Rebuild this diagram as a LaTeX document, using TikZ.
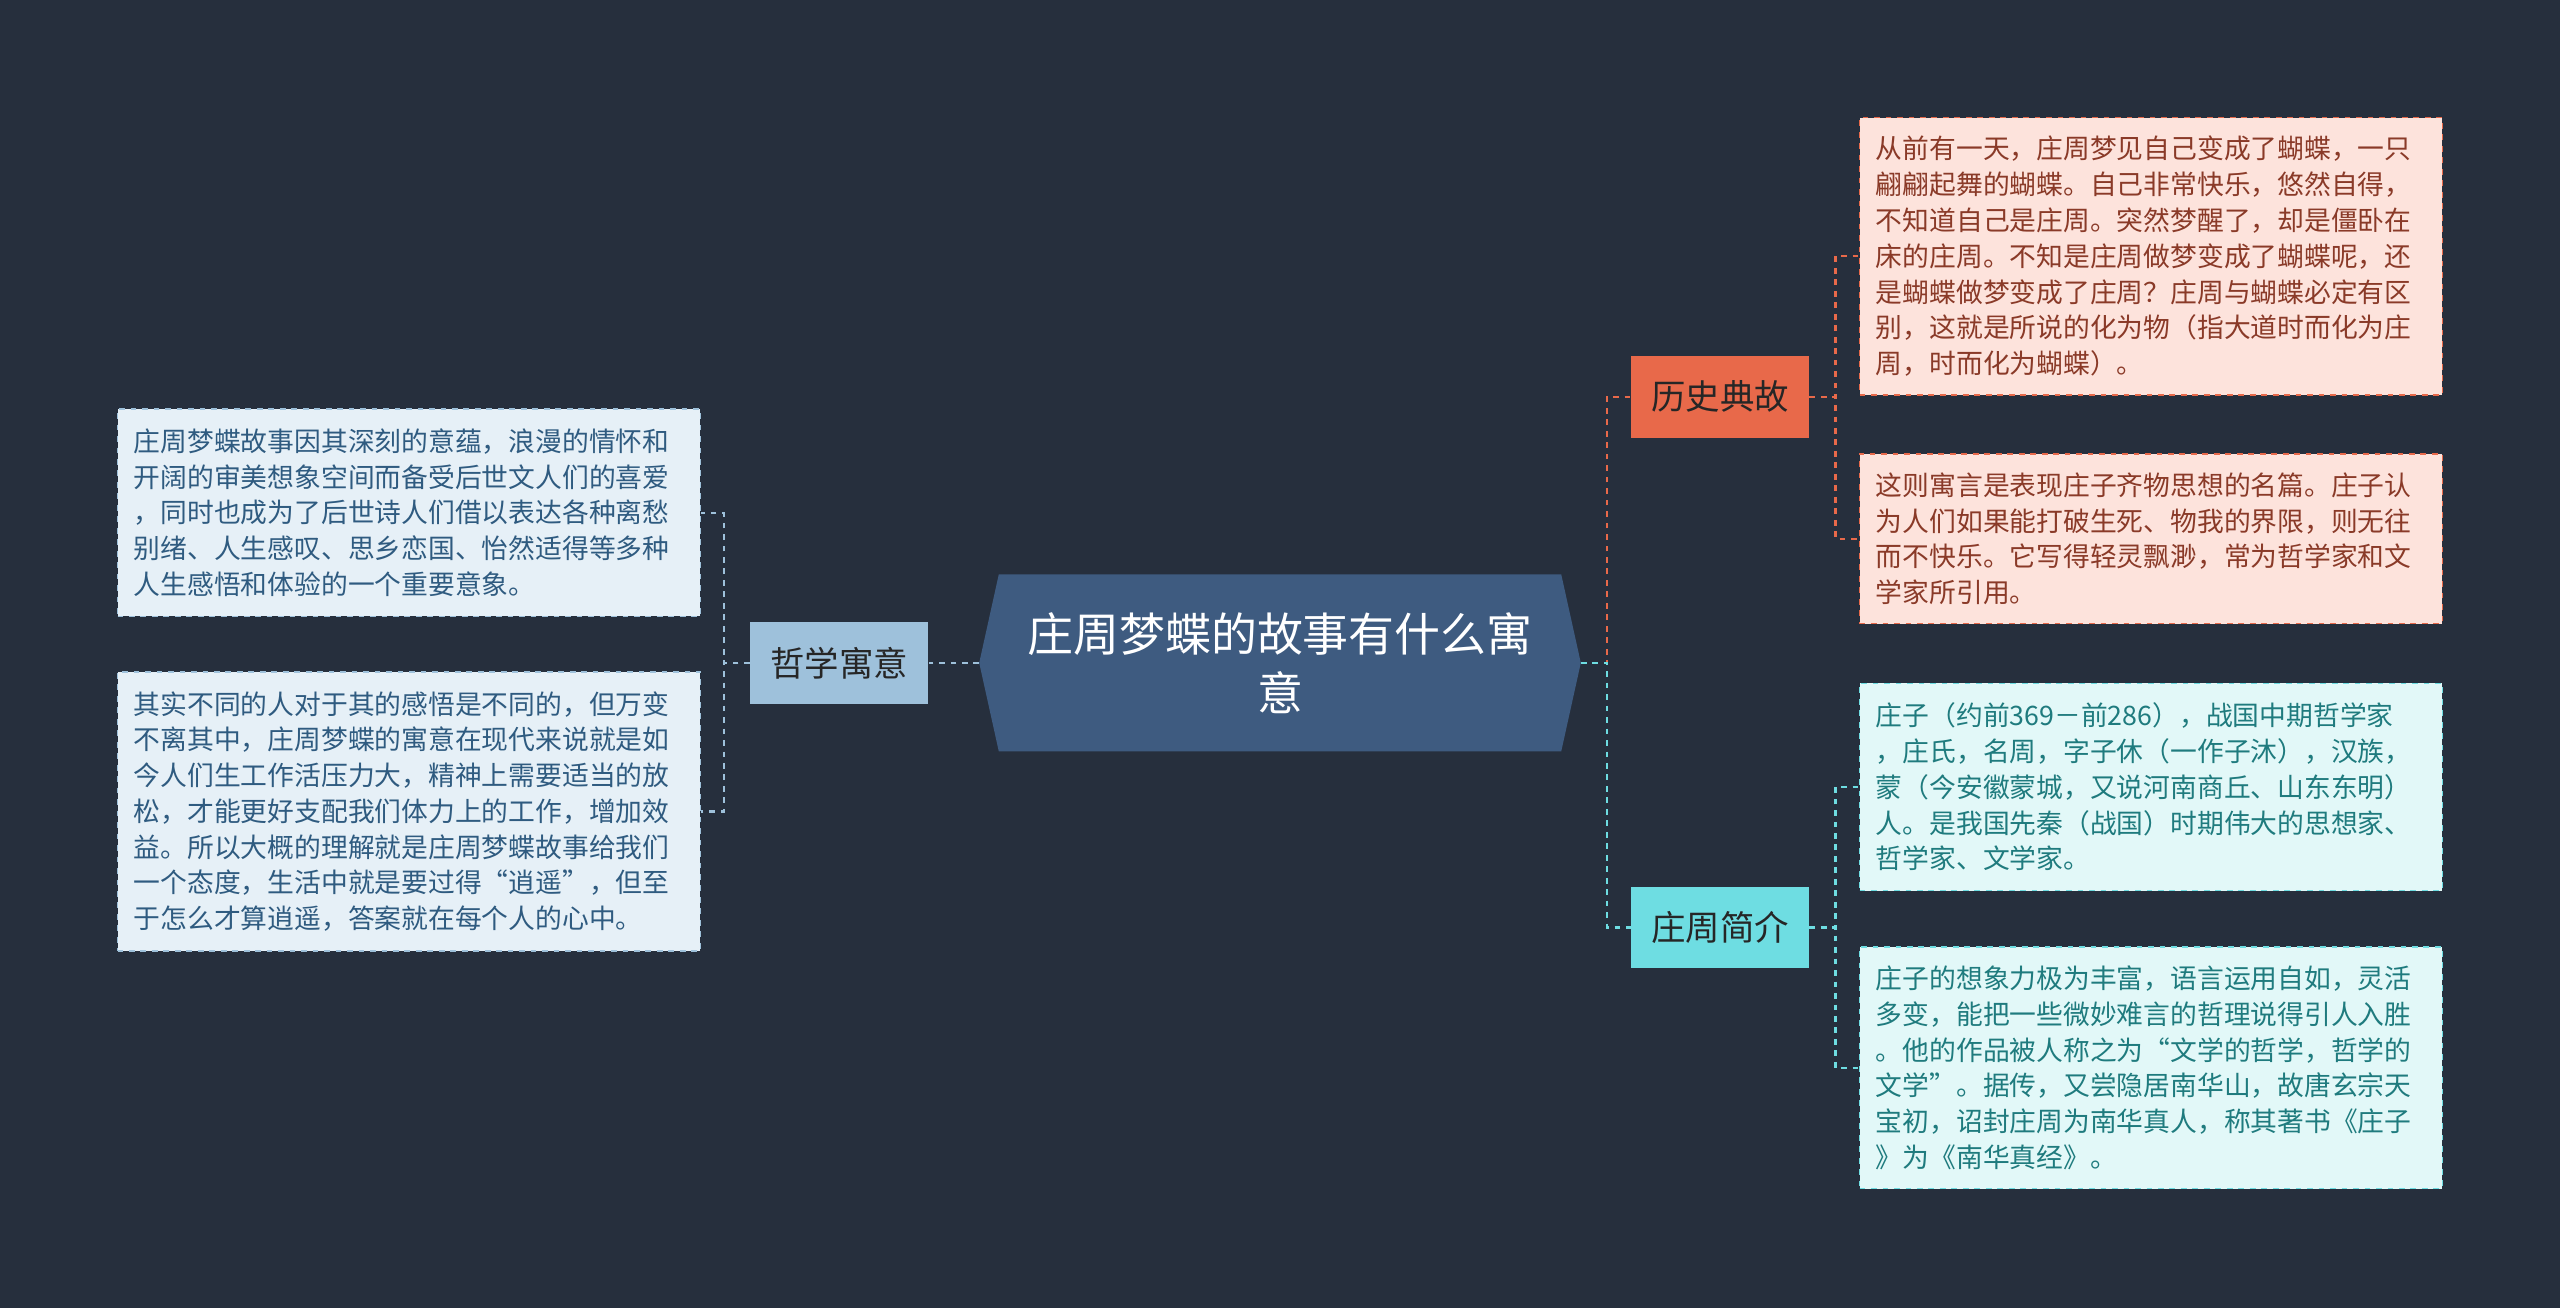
\documentclass[tikz,border=0pt]{standalone}
\usepackage{fontspec}
\setmainfont{Noto Sans CJK SC}
\usetikzlibrary{calc,positioning}
\definecolor{bgc}{HTML}{262F3D}
\definecolor{rootc}{HTML}{3E5B80}
\definecolor{histc}{HTML}{E8694A}
\definecolor{histl}{HTML}{FDE3DC}
\definecolor{histt}{HTML}{8A3A28}
\definecolor{biogc}{HTML}{6EDDE2}
\definecolor{biogl}{HTML}{E2F8F8}
\definecolor{biogt}{HTML}{1F7B7E}
\definecolor{philc}{HTML}{9EC1DB}
\definecolor{phill}{HTML}{E6F0F7}
\definecolor{philt}{HTML}{2F5B80}
\tikzset{%
	root/.style   = {rectangle, minimum width=11.04cm, minimum height=3.24cm, text=white, align=center, font=\fontsize{24pt}{31pt}\selectfont},
	topic/.style  = {rectangle, minimum width=3.27cm, minimum height=1.5cm, text=black!85, font=\fontsize{18pt}{22pt}\selectfont},
	leaf/.style   = {rectangle, dashed, line width=0.8pt, minimum width=10.71cm, text width=10.11cm, align=left, font=\fontsize{14pt}{18.7pt}\selectfont},
	link/.style   = {dashed, line width=1.2pt},
}
\begin{document}
\begin{tikzpicture}[x=0.03cm,y=-0.03cm]
	\fill[bgc] (0,0) rectangle (1568,801);
	\useasboundingbox (0,0) rectangle (1568,801);
	
	% root
	\node[root] (root) at (784,406) {};
	\fill[rootc] ($(root.north west)+(12,0)$) -- ($(root.north east)+(-12,0)$) -- (root.east) -- ($(root.south east)+(-12,0)$) -- ($(root.south west)+(12,0)$) -- (root.west) -- cycle;
	\node[root] at (root) {庄周梦蝶的故事有什么寓\\意};
	
	% topics
	\node[topic, fill=histc] (hist) at (1053.5,243) {历史典故};
	\node[topic, fill=biogc] (biog) at (1053.5,568) {庄周简介};
	\node[topic, fill=philc] (phil) at (514,406) {哲学寓意};
	
	% leaves
	\node[leaf, draw=histc, fill=histl, text=histt, minimum height=5.1cm] (hist1) at (1317.5,157) {从前有一天，庄周梦见自己变成了蝴蝶，一只\\翩翩起舞的蝴蝶。自己非常快乐，悠然自得，\\不知道自己是庄周。突然梦醒了，却是僵卧在\\床的庄周。不知是庄周做梦变成了蝴蝶呢，还\\是蝴蝶做梦变成了庄周？庄周与蝴蝶必定有区\\别，这就是所说的化为物（指大道时而化为庄\\周，时而化为蝴蝶）。};
	\node[leaf, draw=histc, fill=histl, text=histt, minimum height=3.12cm] (hist2) at (1317.5,330) {这则寓言是表现庄子齐物思想的名篇。庄子认\\为人们如果能打破生死、物我的界限，则无往\\而不快乐。它写得轻灵飘渺，常为哲学家和文\\学家所引用。};
	\node[leaf, draw=biogc, fill=biogl, text=biogt, minimum height=3.81cm] (biog1) at (1317.5,482) {庄子（约前369－前286），战国中期哲学家\\，庄氏，名周，字子休（一作子沐），汉族，\\蒙（今安徽蒙城，又说河南商丘、山东东明）\\人。是我国先秦（战国）时期伟大的思想家、\\哲学家、文学家。};
	\node[leaf, draw=biogc, fill=biogl, text=biogt, minimum height=4.44cm] (biog2) at (1317.5,654) {庄子的想象力极为丰富，语言运用自如，灵活\\多变，能把一些微妙难言的哲理说得引人入胜\\。他的作品被人称之为“文学的哲学，哲学的\\文学”。据传，又尝隐居南华山，故唐玄宗天\\宝初，诏封庄周为南华真人，称其著书《庄子\\》为《南华真经》。};
	\node[leaf, draw=philc, fill=phill, text=philt, minimum height=3.81cm] (phil1) at (250.5,314) {庄周梦蝶故事因其深刻的意蕴，浪漫的情怀和\\开阔的审美想象空间而备受后世文人们的喜爱\\，同时也成为了后世诗人们借以表达各种离愁\\别绪、人生感叹、思乡恋国、怡然适得等多种\\人生感悟和体验的一个重要意象。};
	\node[leaf, draw=philc, fill=phill, text=philt, minimum height=5.13cm] (phil2) at (250.5,497) {其实不同的人对于其的感悟是不同的，但万变\\不离其中，庄周梦蝶的寓意在现代来说就是如\\今人们生工作活压力大，精神上需要适当的放\\松，才能更好支配我们体力上的工作，增加效\\益。所以大概的理解就是庄周梦蝶故事给我们\\一个态度，生活中就是要过得“逍遥”，但至\\于怎么才算逍遥，答案就在每个人的心中。};
	
	% links
	\draw[link, histc] (root.east) -- ++(16,0) |- (hist.west);
	\draw[link, biogc] (root.east) -- ++(16,0) |- (biog.west);
	\draw[link, philc] (root.west) -- (phil.east);
	\draw[link, histc] (hist.east) -- ++(16,0) |- (hist1.west);
	\draw[link, histc] (hist.east) -- ++(16,0) |- (hist2.west);
	\draw[link, biogc] (biog.east) -- ++(16,0) |- (biog1.west);
	\draw[link, biogc] (biog.east) -- ++(16,0) |- (biog2.west);
	\draw[link, philc] (phil.west) -- ++(-16,0) |- (phil1.east);
	\draw[link, philc] (phil.west) -- ++(-16,0) |- (phil2.east);
\end{tikzpicture}
\end{document}
